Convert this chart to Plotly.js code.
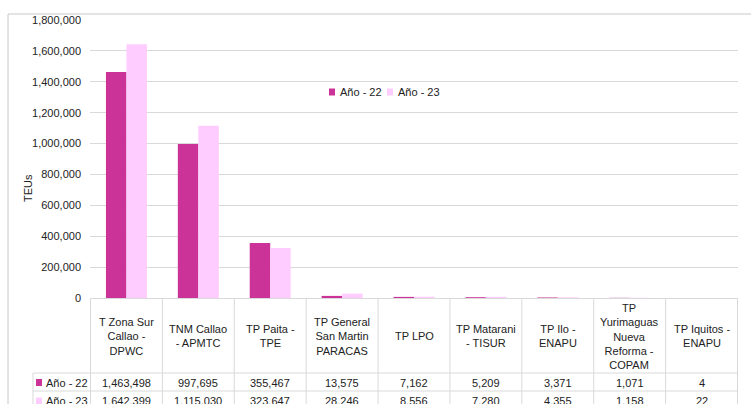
<!DOCTYPE html>
<html>
<head>
<meta charset="utf-8">
<script src="https://cdn.plot.ly/plotly-3.0.1.min.js"></script>
<style>html,body{margin:0;padding:0;background:#fff}#chart{width:751px;height:404px}</style>
</head>
<body>
<div id="chart"></div>
<script>
// ---- data ----
const categories = ["T Zona Sur Callao - DPWC","TNM Callao - APMTC","TP Paita - TPE","TP General San Martin PARACAS","TP LPO","TP Matarani - TISUR","TP Ilo - ENAPU","TP Yurimaguas Nueva Reforma - COPAM","TP Iquitos - ENAPU"];
const tickLabels = ["T Zona Sur<br>Callao -<br>DPWC","TNM Callao<br>- APMTC","TP Paita -<br>TPE","TP General<br>San Martin<br>PARACAS","TP LPO","TP Matarani<br>- TISUR","TP Ilo -<br>ENAPU","TP<br>Yurimaguas<br>Nueva<br>Reforma -<br>COPAM","TP Iquitos -<br>ENAPU"];
const seriesNames = ["Año - 22","Año - 23"];
const values22 = [1463498, 997695, 355467, 13575, 7162, 5209, 3371, 1071, 4];
const values23 = [1642399, 1115030, 323647, 28246, 8556, 7280, 4355, 1158, 22];
const yTitle = "TEUs";

// ---- style / geometry ----
const colors = ["#CC3399", "#FFCCFF"];
const W = 751, H = 404;
const L = 90, R = 738, T = 20, B = 298;
const PW = R - L, PH = B - T;
const px = p => (p - L) / PW;
const py = p => (B - p) / PH;
const FONT = "Liberation Sans, Arial, sans-serif";
const TXT = "#222";
const LINE = "#d9d9d9";
const fmt = v => v.toLocaleString("en-US");

const traces = [
  {type: "bar", name: seriesNames[0], x: categories, y: values22, marker: {color: colors[0]}, hoverinfo: "x+y"},
  {type: "bar", name: seriesNames[1], x: categories, y: values23, marker: {color: colors[1]}, hoverinfo: "x+y"}
];

const shapes = [];
const annotations = [];
const line = (x0, y0, x1, y1, xref, color) => shapes.push({
  type: "line", xref: xref || "paper", yref: "paper", x0, y0, x1, y1,
  line: {color: color || LINE, width: 1}, layer: "above"
});

// outer frame
line(px(8), py(14), px(760), py(14), "paper", "#c8c8c8");
line(px(8), py(14), px(8), py(410), "paper", "#c8c8c8");

// data table lines
const rowTop = 373, rowMid = 391, rowBot = 410;
for (let i = 0; i <= categories.length; i++) {
  line(i - 0.5, py(B), i - 0.5, py(rowBot), "x");
}
line(px(33), py(rowTop), px(R), py(rowTop));
line(px(33), py(rowMid), px(R), py(rowMid));
line(px(33), py(rowTop), px(33), py(rowBot));

// header labels
categories.forEach((c, i) => {
  annotations.push({xref: "x", yref: "paper", x: c, y: py(336), text: tickLabels[i],
    showarrow: false, xanchor: "center", yanchor: "middle", align: "center",
    font: {family: FONT, size: 11, color: TXT}});
  annotations.push({xref: "x", yref: "paper", x: c, y: py(382.5), text: fmt(values22[i]),
    showarrow: false, xanchor: "center", yanchor: "middle", font: {family: FONT, size: 11, color: TXT}});
  annotations.push({xref: "x", yref: "paper", x: c, y: py(401), text: fmt(values23[i]),
    showarrow: false, xanchor: "center", yanchor: "middle", font: {family: FONT, size: 11, color: TXT}});
});

// row label keys
[382.5, 401].forEach((yy, k) => {
  shapes.push({type: "rect", xref: "paper", yref: "paper", x0: px(36), x1: px(42), y0: py(yy - 3.5), y1: py(yy + 3.5),
    fillcolor: colors[k], line: {width: 0}});
  annotations.push({xref: "paper", yref: "paper", x: px(44), y: py(yy), text: seriesNames[k], showarrow: false,
    xanchor: "left", yanchor: "middle", font: {family: FONT, size: 11, color: TXT}});
});

// legend
[[329, 338], [387, 396]].forEach((pos, k) => {
  shapes.push({type: "rect", xref: "paper", yref: "paper", x0: px(pos[0]), x1: px(pos[0] + 6), y0: py(95.5), y1: py(88.5),
    fillcolor: colors[k], line: {width: 0}});
  annotations.push({xref: "paper", yref: "paper", x: px(pos[1]), y: py(92), text: seriesNames[k], showarrow: false,
    xanchor: "left", yanchor: "middle", font: {family: FONT, size: 11, color: TXT}});
});

// y title
annotations.push({xref: "paper", yref: "paper", x: px(28), y: py(188), text: yTitle, textangle: -90,
  showarrow: false, xanchor: "center", yanchor: "middle", font: {family: FONT, size: 11, color: TXT}});

const layout = {
  width: W, height: H,
  margin: {l: L, r: W - R, t: T, b: H - B, pad: 0},
  paper_bgcolor: "#fff", plot_bgcolor: "#fff",
  font: {family: FONT, size: 11, color: TXT},
  barmode: "group", bargap: 0.43, bargroupgap: 0,
  showlegend: false,
  xaxis: {type: "category", showticklabels: false, ticks: "", showgrid: false, zeroline: false,
    showline: true, linecolor: LINE, linewidth: 1, fixedrange: true},
  yaxis: {range: [0, 1800000], dtick: 200000, tick0: 0, tickformat: ",d", showgrid: true, gridcolor: LINE, gridwidth: 1,
    zeroline: false, showline: false, ticks: "", ticklabelstandoff: 8,
    tickfont: {family: FONT, size: 11, color: TXT}, fixedrange: true},
  shapes, annotations
};

Plotly.newPlot("chart", traces, layout, {displayModeBar: false, staticPlot: true});
</script>
</body>
</html>
